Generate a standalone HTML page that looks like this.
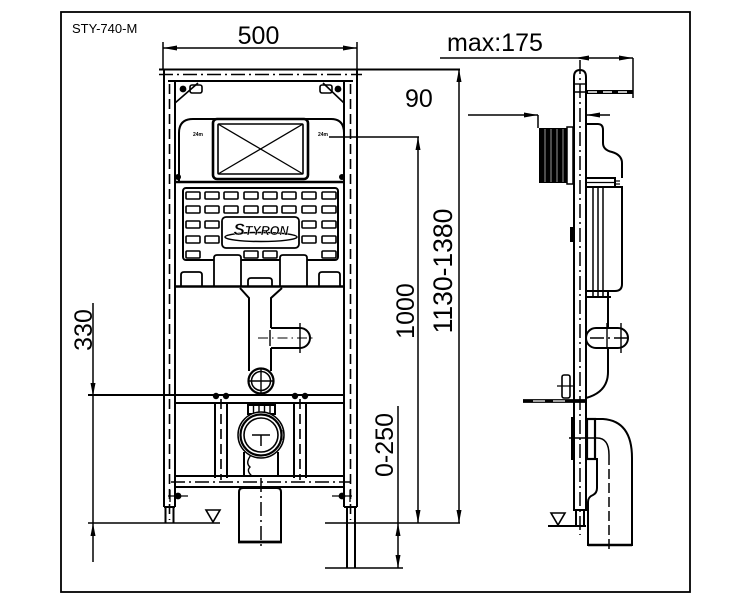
<!DOCTYPE html>
<html><head><meta charset="utf-8"><style>
html,body{margin:0;padding:0;background:#fff;}
svg{display:block;}
text{font-family:"Liberation Sans",Arial,sans-serif;fill:#000;}
</style></head><body>
<svg width="750" height="600" viewBox="0 0 750 600" xmlns="http://www.w3.org/2000/svg">
<rect width="750" height="600" fill="#fff"/>
<!-- border -->
<rect x="61" y="12" width="629" height="580" fill="none" stroke="#000" stroke-width="1.8"/>
<text x="72" y="33" font-size="13">STY-740-M</text>

<!-- ===== MAIN VIEW ===== -->
<g stroke="#000" fill="none" stroke-width="2">
 <!-- top member -->
 <line x1="159" y1="69.5" x2="460" y2="69.5"/>
 <line x1="168" y1="81" x2="353" y2="81"/>
 <!-- uprights -->
 <line x1="164" y1="70" x2="164" y2="507"/>
 <line x1="175" y1="81" x2="175" y2="507"/>
 <line x1="164" y1="507" x2="175" y2="507"/>
 <line x1="165.5" y1="507" x2="165.5" y2="523"/>
 <line x1="173.5" y1="507" x2="173.5" y2="523"/>
 <line x1="344" y1="81" x2="344" y2="507"/>
 <line x1="357" y1="70" x2="357" y2="507"/>
 <line x1="344" y1="507" x2="357" y2="507"/>
 <line x1="347" y1="507" x2="347" y2="568"/>
 <line x1="355" y1="507" x2="355" y2="568"/>
 <!-- corner braces -->
 <line x1="198" y1="83" x2="175" y2="103" stroke-width="1.6"/>
 <line x1="323" y1="83" x2="344" y2="103" stroke-width="1.6"/>
 <rect x="190" y="85" width="12" height="8" rx="2" stroke-width="1.6"/>
 <rect x="320" y="85" width="12" height="8" rx="2" stroke-width="1.6"/>
 <!-- cistern housing -->
 <path d="M179,183 V133 Q179,119 193,119 H331 Q344,119 344,133"/>
 <rect x="213" y="119" width="95" height="60" rx="4" stroke-width="2.6"/>
 <rect x="218" y="124" width="85" height="50" rx="1" stroke-width="1.6"/>
 <line x1="218" y1="124" x2="303" y2="174" stroke-width="1.3"/>
 <line x1="303" y1="124" x2="218" y2="174" stroke-width="1.3"/>
 <line x1="175" y1="182" x2="344" y2="182" stroke-width="2.4"/>
 <!-- grid -->
 <rect x="183" y="188" width="155" height="72" rx="3"/>
</g>
<g fill="#000">
 <circle cx="183" cy="89" r="3.4"/>
 <circle cx="338" cy="89" r="3.4"/>
 <circle cx="178" cy="177" r="3"/>
 <circle cx="342" cy="177" r="3"/>
</g>
<g font-size="5" font-weight="bold">
 <text x="193" y="136">24m</text>
 <text x="318" y="136">24m</text>
</g>
<g stroke="#000" stroke-width="1.6" fill="none">
 <!-- grid cells -->
 <g>
  <rect x="186" y="192" width="14" height="7" rx="1"/><rect x="205" y="192" width="14" height="7" rx="1"/><rect x="224" y="192" width="14" height="7" rx="1"/><rect x="244" y="192" width="14" height="7" rx="1"/><rect x="263" y="192" width="14" height="7" rx="1"/><rect x="282" y="192" width="14" height="7" rx="1"/><rect x="302" y="192" width="14" height="7" rx="1"/><rect x="322" y="192" width="14" height="7" rx="1"/>
  <rect x="186" y="206" width="14" height="7" rx="1"/><rect x="205" y="206" width="14" height="7" rx="1"/><rect x="224" y="206" width="14" height="7" rx="1"/><rect x="244" y="206" width="14" height="7" rx="1"/><rect x="263" y="206" width="14" height="7" rx="1"/><rect x="282" y="206" width="14" height="7" rx="1"/><rect x="302" y="206" width="14" height="7" rx="1"/><rect x="322" y="206" width="14" height="7" rx="1"/>
  <rect x="186" y="221" width="14" height="7" rx="1"/><rect x="205" y="221" width="14" height="7" rx="1"/><rect x="302" y="221" width="14" height="7" rx="1"/><rect x="322" y="221" width="14" height="7" rx="1"/>
  <rect x="186" y="236" width="14" height="7" rx="1"/><rect x="205" y="236" width="14" height="7" rx="1"/><rect x="302" y="236" width="14" height="7" rx="1"/><rect x="322" y="236" width="14" height="7" rx="1"/>
  <rect x="186" y="251" width="14" height="7" rx="1"/><rect x="244" y="251" width="14" height="7" rx="1"/><rect x="263" y="251" width="14" height="7" rx="1"/><rect x="322" y="251" width="14" height="7" rx="1"/>
 </g>
 <!-- logo box -->
 <rect x="222" y="217" width="77" height="31" rx="4" fill="#fff" stroke-width="1.8"/>
 <ellipse cx="261" cy="237" rx="36" ry="4.5" stroke-width="1.5"/>
</g>
<text x="261" y="235" font-size="12.5" text-anchor="middle" font-family="Liberation Serif, serif" font-weight="bold" font-style="italic" stroke="#fff" stroke-width="0.3"><tspan font-size="17">S</tspan>TYRON</text>
<g stroke="#000" stroke-width="1.8" fill="#fff">
 <!-- tabs -->
 <path d="M214,287 V258 Q214,255 217,255 H238 Q241,255 241,258 V287"/>
 <path d="M280,287 V258 Q280,255 283,255 H304 Q307,255 307,258 V287"/>
 <path d="M181,287 V275 Q181,272 184,272 H199 Q202,272 202,275 V287"/>
 <path d="M319,287 V275 Q319,272 322,272 H337 Q340,272 340,275 V287"/>
 <path d="M248,287 V281 Q248,278 251,278 H269 Q272,278 272,281 V287"/>
</g>
<g stroke="#000" stroke-width="2" fill="none">
 <line x1="175" y1="286.5" x2="344" y2="286.5" stroke-width="2.4"/>
 <!-- funnel & pipe -->
 <path d="M240,288 L249,298 V371"/>
 <path d="M282,288 L271,298 V328"/>
 <path d="M271,348 V371"/>
 <path d="M271,328 H300 A10,10 0 0 1 300,348 H271"/>
 <line x1="270" y1="330" x2="270" y2="346" stroke-width="1.4"/>
 <line x1="300" y1="323" x2="300" y2="353" stroke-width="1.4"/>
 <line x1="258" y1="338" x2="313" y2="338" stroke-width="1.1" stroke-dasharray="10,4,1.5,4"/>
 <circle cx="261" cy="381" r="12.5" stroke-width="2.2"/>
 <circle cx="261" cy="381" r="9.5" stroke-width="1.5"/>
 <line x1="249" y1="381" x2="273" y2="381" stroke-width="1.4"/>
 <line x1="261" y1="368" x2="261" y2="395" stroke-width="1.4"/>
 <!-- cross member -->
 <line x1="88" y1="395" x2="344" y2="395"/>
 <line x1="175" y1="403" x2="344" y2="403"/>
 <!-- brackets -->
 <line x1="215" y1="403" x2="215" y2="478"/>
 <line x1="227" y1="403" x2="227" y2="478"/>
 <line x1="294" y1="403" x2="294" y2="478"/>
 <line x1="306" y1="403" x2="306" y2="478"/>
 <!-- bottom member -->
 <line x1="175" y1="476" x2="344" y2="476"/>
 <line x1="175" y1="487" x2="344" y2="487"/>
 <!-- outlet -->
 <rect x="248" y="405" width="27" height="9"/>
 <line x1="253.5" y1="405" x2="253.5" y2="414" stroke-width="1.4"/>
 <line x1="259" y1="405" x2="259" y2="414" stroke-width="1.4"/>
 <line x1="264.5" y1="405" x2="264.5" y2="414" stroke-width="1.4"/>
 <line x1="270" y1="405" x2="270" y2="414" stroke-width="1.4"/>
 <line x1="244" y1="452" x2="244" y2="476"/>
 <line x1="278" y1="452" x2="278" y2="476"/>
 <circle cx="261" cy="435" r="23" fill="#fff" stroke-width="1.5"/>
 <circle cx="261" cy="435" r="20.5" stroke-width="2.2"/>
 <circle cx="261" cy="435" r="17" stroke-width="1.6"/>
 <line x1="252" y1="435" x2="270" y2="435" stroke-width="1.5"/>
 <line x1="261" y1="435" x2="261" y2="446" stroke-width="1.5"/>
 <line x1="282" y1="430" x2="282" y2="440" stroke-width="1.2"/>
 <path d="M251,455 q-6,8 -1,12 q-4,4 2,9" stroke-width="1.4"/>
 <path d="M239,542 V492 Q239,488 243,488 H277 Q281,488 281,492 V542"/>
 <line x1="238" y1="542" x2="282" y2="542" stroke-width="2.8"/>
</g>
<g fill="#000">
 <circle cx="216" cy="396" r="3.2"/><circle cx="226" cy="396" r="3.2"/>
 <circle cx="295" cy="396" r="3.2"/><circle cx="305" cy="396" r="3.2"/>
 <circle cx="178" cy="496" r="3.4"/><circle cx="342" cy="496" r="3.4"/>
</g>
<g stroke="#000" stroke-width="1.3">
 <line x1="168" y1="496" x2="188" y2="496"/><line x1="170" y1="490" x2="170" y2="502"/>
 <line x1="332" y1="496" x2="352" y2="496"/><line x1="350" y1="490" x2="350" y2="502"/>
</g>
<!-- dashed lines main -->
<g stroke="#000" fill="none" stroke-width="1.6" stroke-dasharray="10,5">
 <line x1="169.5" y1="84" x2="169.5" y2="520"/>
 <line x1="350.5" y1="84" x2="350.5" y2="520"/>
 <line x1="221" y1="399" x2="221" y2="480"/>
 <line x1="300" y1="399" x2="300" y2="480"/>
</g>
<g stroke="#000" fill="none" stroke-width="1.5" stroke-dasharray="14,4,2,4">
 <line x1="159" y1="74.5" x2="362" y2="74.5"/>
 <line x1="171" y1="482" x2="350" y2="482"/>
 <line x1="261" y1="478" x2="261" y2="550"/>
</g>

<!-- ===== DIMENSIONS ===== -->
<g stroke="#000" stroke-width="1.5" fill="none">
 <line x1="163" y1="42" x2="163" y2="70"/>
 <line x1="357" y1="42" x2="357" y2="70"/>
 <line x1="163" y1="48" x2="357" y2="48"/>
 <line x1="93" y1="303" x2="93" y2="562"/>
 <line x1="88" y1="523" x2="220" y2="523"/>
 <line x1="325" y1="523" x2="460" y2="523"/>
 <line x1="325" y1="568" x2="403" y2="568"/>
 <line x1="329" y1="137" x2="419" y2="137"/>
 <line x1="418" y1="137" x2="418" y2="523"/>
 <line x1="459" y1="69" x2="459" y2="523"/>
 <line x1="398" y1="406" x2="398" y2="568"/>
 <!-- side dims -->
 <line x1="440" y1="58" x2="633" y2="58"/>
 <line x1="633" y1="58" x2="633" y2="98"/>
 <line x1="468" y1="115" x2="538" y2="115"/>
 <line x1="538" y1="115" x2="538" y2="128"/>
 <line x1="586" y1="115" x2="610" y2="115"/>
</g>
<g fill="#000">
 <polygon points="163,48 177,45.5 177,50.5"/>
 <polygon points="357,48 343,45.5 343,50.5"/>
 <polygon points="93,396 90.5,383 95.5,383"/>
 <polygon points="93,523 90.5,536 95.5,536"/>
 <polygon points="418,137 415.5,150 420.5,150"/>
 <polygon points="418,523 415.5,510 420.5,510"/>
 <polygon points="459,69 456.5,82 461.5,82"/>
 <polygon points="459,523 456.5,510 461.5,510"/>
 <polygon points="398,523 395.5,536 400.5,536"/>
 <polygon points="398,568 395.5,555 400.5,555"/>
 <polygon points="575,58 589,55.5 589,60.5"/>
 <polygon points="633,58 619,55.5 619,60.5"/>
 <polygon points="538,115 524,112.5 524,117.5"/>
 <polygon points="586,115 600,112.5 600,117.5"/>
</g>
<g fill="#fff" stroke="#000" stroke-width="1.6">
 <polygon points="206,510 220,510 213,522"/>
 <polygon points="551,513 565,513 558,525"/>
</g>
<g font-size="25">
 <text x="258.5" y="44" text-anchor="middle">500</text>
 <text x="447" y="51">max:175</text>
 <text x="405" y="107">90</text>
 <text transform="translate(92,330) rotate(-90)" text-anchor="middle">330</text>
 <text transform="translate(414,311) rotate(-90)" text-anchor="middle">1000</text>
 <text transform="translate(452,271) rotate(-90)" text-anchor="middle" font-size="26.5">1130-1380</text>
 <text transform="translate(393,445) rotate(-90)" text-anchor="middle">0-250</text>
</g>

<!-- ===== SIDE VIEW ===== -->
<g stroke="#000" fill="none" stroke-width="2">
 <path d="M574,510 V77 Q574,70 580,70 Q586,70 586,77 V510 Z"/>
 <line x1="574" y1="84" x2="586" y2="84" stroke-width="1.4"/>
 <line x1="576" y1="510" x2="576" y2="526"/>
 <line x1="584" y1="510" x2="584" y2="526"/>
 <line x1="548" y1="526" x2="586" y2="526"/>
 <!-- cistern -->
 <path d="M586,124 H598 Q603,124 603,130 V143 Q603,150 612,152 Q622,155 622,163 V178"/>
 <rect x="586" y="178" width="29" height="9"/>
 <line x1="586" y1="182.5" x2="615" y2="182.5" stroke-width="1.2"/>
 <line x1="615" y1="181" x2="620" y2="181" stroke-width="1.2"/>
 <line x1="615" y1="184" x2="620" y2="184" stroke-width="1.2"/>
 <path d="M586,187 H622 V284 Q622,291 615,291 H586"/>
 <line x1="593" y1="187" x2="593" y2="297" stroke-width="1.5"/>
 <line x1="598" y1="187" x2="598" y2="297" stroke-width="1.5"/>
 <line x1="603" y1="187" x2="603" y2="297" stroke-width="1.5"/>
 <line x1="586" y1="297" x2="611" y2="297"/>
 <line x1="608" y1="291" x2="608" y2="328"/>
 <path d="M596,328 H618 A10,10 0 0 1 618,348 H596 A10,10 0 0 1 596,328 Z"/>
 <line x1="607" y1="323" x2="607" y2="349" stroke-width="1.4"/>
 <line x1="621" y1="323" x2="621" y2="353" stroke-width="1.4"/>
 <path d="M608,348 V372 Q608,392 586,398"/>
 <!-- drum -->
 <rect x="567" y="127" width="6" height="57" stroke-width="1.5"/>
 <!-- bracket -->
 <rect x="562" y="375" width="8" height="23" rx="2" stroke-width="1.6"/>
 <line x1="557" y1="386" x2="574" y2="386" stroke-width="1.3"/>
 <!-- elbow -->
 <rect x="587" y="419" width="8" height="40" stroke-width="2.2"/>
 <path d="M595,419 H603 Q632,421 632,458 V545 H588 V502 Q588,497 593,495 Q597,493 597,488 V458"/>
 <path d="M597,438 Q609,438 609,455" stroke-width="1.5"/>
 <line x1="569" y1="438" x2="597" y2="438" stroke-width="1.4"/>
 <line x1="588" y1="545" x2="632" y2="545" stroke-width="2.6"/>
</g>
<g fill="#000">
 <rect x="539" y="128" width="28" height="55"/>
 <rect x="571" y="417" width="4" height="43"/>
 <rect x="570" y="227" width="3" height="15"/>
</g>
<g stroke="#fff" stroke-width="0.6">
 <line x1="545" y1="129" x2="545" y2="182"/><line x1="551" y1="129" x2="551" y2="182"/><line x1="557" y1="129" x2="557" y2="182"/><line x1="563" y1="129" x2="563" y2="182"/>
</g>
<!-- rods -->
<line x1="586" y1="92" x2="633" y2="92" stroke="#000" stroke-width="4"/>
<line x1="588" y1="92" x2="630" y2="92" stroke="#fff" stroke-width="1.4" stroke-dasharray="9,6"/>
<line x1="573" y1="92" x2="586" y2="92" stroke="#000" stroke-width="1.5"/>
<line x1="523" y1="401" x2="586" y2="401" stroke="#000" stroke-width="3.8"/>
<line x1="533" y1="401" x2="572" y2="401" stroke="#fff" stroke-width="1.3" stroke-dasharray="12,8"/>
<g stroke="#000" fill="none" stroke-width="1.5" stroke-dasharray="14,4,2,4">
 <line x1="580" y1="60" x2="580" y2="535"/>
 <line x1="590" y1="338" x2="631" y2="338"/>
</g>
<line x1="609" y1="455" x2="609" y2="550" stroke="#000" stroke-width="1.5" stroke-dasharray="10,4"/>
</svg>
</body></html>
